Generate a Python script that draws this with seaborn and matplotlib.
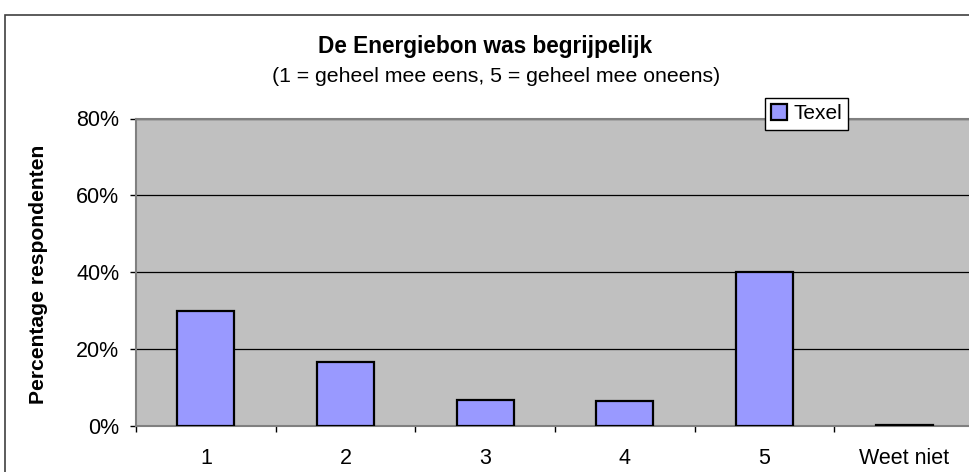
import matplotlib
matplotlib.use("Agg")
import matplotlib.pyplot as plt
import seaborn as sns
import numpy as np
from matplotlib.patches import Rectangle
from matplotlib.ticker import FixedLocator

categories = ["1", "2", "3", "4", "5", "Weet niet"]
values = [30.0, 16.7, 6.7, 6.5, 40.0, 0.3]
series_name = "Texel"
yticks = [0, 20, 40, 60, 80]
ytick_labels = ["0%", "20%", "40%", "60%", "80%"]

sns.set_style("white")
plt.rcParams['font.family'] = ['Liberation Sans', 'DejaVu Sans']
plt.rcParams['text.color'] = 'black'
plt.rcParams['axes.labelcolor'] = 'black'
plt.rcParams['xtick.color'] = 'black'
plt.rcParams['ytick.color'] = 'black'

W, H = 970, 472
fig = plt.figure(figsize=(W / 100, H / 100), dpi=100)

# outer chart frame (cut off at right/bottom)
fig.patches.append(Rectangle((5 / W, -0.1), 1.2, 1 - 15 / H + 0.1, transform=fig.transFigure,
                             fill=False, edgecolor="#404040", linewidth=1.2, zorder=0))

left, right, top, bottom = 136, 974, 118.5, 425.7
ax = fig.add_axes([left / W, (H - bottom) / H, (right - left) / W, (bottom - top) / H])
ax.set_facecolor("#C0C0C0")

sns.barplot(x=categories, y=values, color="#9999FF", edgecolor="black", linewidth=1.6,
            width=0.41, saturation=1, label=series_name, ax=ax, zorder=3)

ax.set_ylim(0, 80)
ax.set_xlim(-0.5, len(categories) - 0.5)
ax.set_yticks(yticks)
ax.set_yticklabels(ytick_labels, fontsize=15.5)
ax.yaxis.grid(True, color="black", linewidth=0.9)
ax.set_axisbelow(True)

ax.set_xticks(range(len(categories)))
ax.set_xticklabels(categories, fontsize=15.5)
ax.tick_params(axis="x", which="major", length=0, pad=16)
ax.xaxis.set_minor_locator(FixedLocator(np.arange(-0.5, len(categories), 1.0)))
ax.tick_params(axis="x", which="minor", length=4, width=1, color="black", direction="out", bottom=True)
ax.tick_params(axis="y", length=4, width=1, color="black", direction="out", left=True, pad=8)

for s in ["left", "bottom", "top"]:
    ax.spines[s].set_color("#808080")
    ax.spines[s].set_linewidth(1.5)
ax.spines["right"].set_visible(False)

ax.set_xlabel("")
ax.set_ylabel("Percentage respondenten", fontsize=15.2, fontweight="bold")
ax.yaxis.set_label_coords(48 / W, 1 - 274.5 / H, transform=fig.transFigure)

fig.text(485 / W, 1 - 46 / H, "De Energiebon was begrijpelijk", ha="center", va="center",
         fontsize=16.3, fontweight="bold")
fig.text(496 / W, 1 - 77 / H, "(1 = geheel mee eens, 5 = geheel mee oneens)", ha="center",
         va="center", fontsize=15.3)

leg = ax.legend(loc="upper left", bbox_to_anchor=(765 / W, 1 - 98 / H),
                bbox_transform=fig.transFigure, frameon=True, fancybox=False,
                fontsize=15, handlelength=0.75, handleheight=0.75, handletextpad=0.3,
                borderpad=0.3, borderaxespad=0)
leg.get_frame().set_edgecolor("black")
leg.get_frame().set_linewidth(1)
leg.get_frame().set_facecolor("white")
leg.get_frame().set_alpha(1)

fig.savefig("out.png", dpi=100)
